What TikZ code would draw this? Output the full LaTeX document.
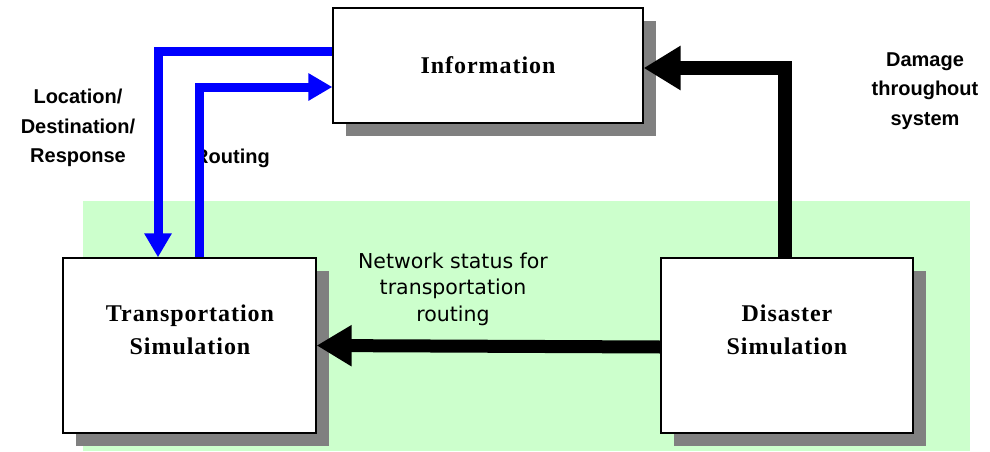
\documentclass[tikz,border=0pt]{standalone}
\usepackage{fontspec}
\setmainfont{Liberation Serif}
\newfontfamily\boxfont[LetterSpace=4]{Liberation Serif}
\newfontfamily\netfont{DejaVu Sans}
\newfontfamily\labelfont{Liberation Sans}
\usetikzlibrary{arrows.meta,shadows}
\definecolor{zone}{HTML}{CCFFCC}
\definecolor{flowblue}{HTML}{0000FF}
\definecolor{shade}{HTML}{808080}
\tikzset{
  simbox/.style={draw=black, line width=1.3pt, fill=white,
    general shadow={fill=shade, shadow xshift=13pt, shadow yshift=-13pt}},
  boxtext/.style={font=\boxfont\fontsize{24}{33}\selectfont\bfseries, align=center, inner sep=0pt},
  flowlabel/.style={font=\labelfont\fontsize{20}{29.5}\selectfont\bfseries, align=center, inner sep=0pt},
  netlabel/.style={font=\netfont\fontsize{20.5}{26.5}\selectfont, align=center, inner sep=0pt},
  bluearrow/.style={draw=flowblue, line width=9pt,
    -{Triangle[length=24pt, width=26pt]}},
  blackarrow/.style={draw=black, line width=14pt,
    -{Triangle[length=37pt, width=42pt]}},
}
\begin{document}
\begin{tikzpicture}[x=1pt, y=-1pt]
  \useasboundingbox (0,0) rectangle (990,452);
  % shaded simulation zone
  \fill[zone] (83,201) rectangle (970,451);

  % the three components
  \node[simbox, minimum width=310pt, minimum height=115pt] (info) at (488,65.5) {};
  \node[simbox, minimum width=253pt, minimum height=175pt] (trans) at (189.5,345.5) {};
  \node[simbox, minimum width=252pt, minimum height=175pt] (dis) at (787,345.5) {};

  \node[boxtext] (infotext) at (488,65) {Information};
  \node[boxtext] (transtext) at (190,330) {Transportation\\Simulation};
  \node[boxtext] (distext) at (787,330) {Disaster\\Simulation};

  % flow labels
  \node[flowlabel] (loclabel) at (78,128) {Location/\\Destination/\\Response};
  \node[flowlabel] (routelabel) at (232,158) {Routing};
  \node[flowlabel] (damagelabel) at (925,91) {Damage\\throughout\\system};
  \node[netlabel] (netlabel) at (453,289) {Network status for\\transportation\\routing};

  % information exchange with the transportation model
  \draw[bluearrow] ([yshift=13.5pt]info.west) -| ([xshift=-31.5pt]trans.north);
  \draw[bluearrow] ([xshift=9.5pt]trans.north) |- ([yshift=-21.5pt]info.west);

  % outputs of the disaster model
  \draw[blackarrow] ([xshift=-2pt]dis.north) |- ([yshift=-2.5pt]info.east);
  \draw[blackarrow, line width=13pt, -{Triangle[length=35pt, width=39pt]}]
    ([yshift=-1.5pt]dis.west) -- (trans.east);
\end{tikzpicture}
\end{document}
